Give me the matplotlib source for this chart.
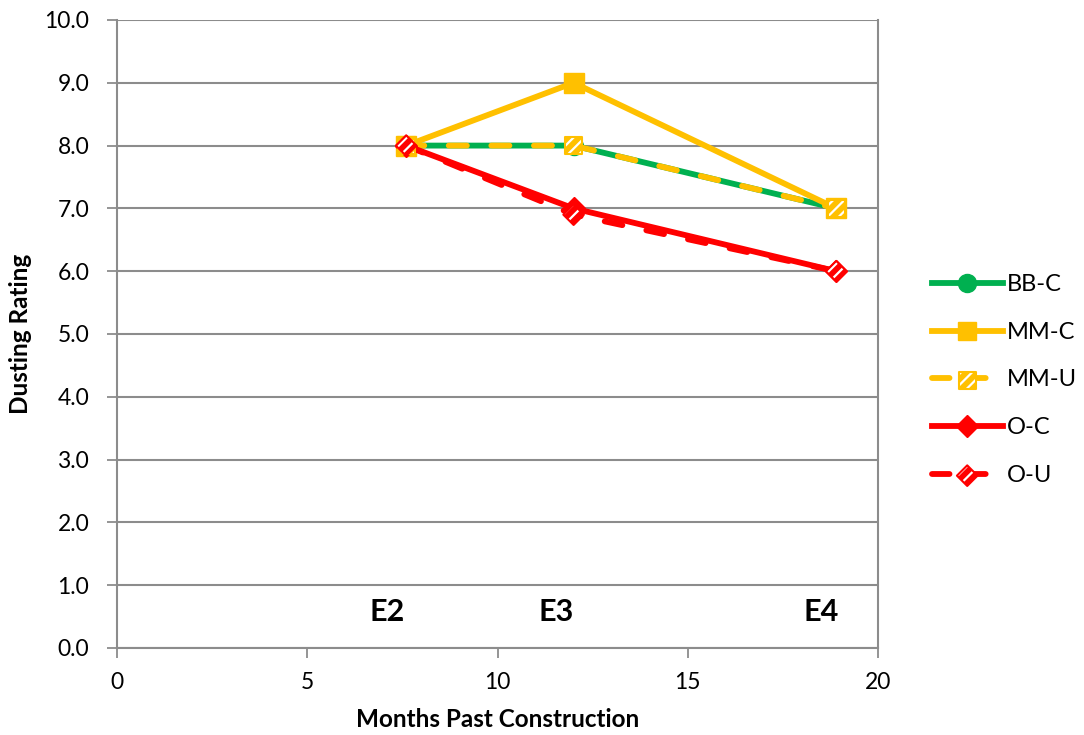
import matplotlib
matplotlib.use("Agg")
import matplotlib.pyplot as plt
from matplotlib.lines import Line2D
from matplotlib.legend_handler import HandlerTuple

# ─── Data ─────────────────────────────────────────────
months = [7.6, 12.0, 18.9]
bb_c = [8.0, 8.0, 7.0]
mm_c = [8.0, 9.0, 7.0]
mm_u = [8.0, 8.0, 7.0]
o_c = [8.0, 7.0, 6.0]
o_u = [8.0, 6.9, 6.0]

events = ["E2", "E3", "E4"]
event_x = [7.1, 11.55, 18.5]
event_y = 0.57

GREEN = "#00b050"
GOLD = "#ffc000"
RED = "#ff0000"
GRID = "#8c8c8c"

plt.rcParams["font.family"] = ["Lato", "DejaVu Sans"]
plt.rcParams["hatch.linewidth"] = 1.6

fig = plt.figure(figsize=(10.84, 7.35), dpi=100)
ax = fig.add_axes([0.1079, 0.1184, 0.7021, 0.8544])

LW = 4.2
dash = (3.1, 4.2)

ax.plot(months, bb_c, color=GREEN, lw=LW, marker="o", ms=13, zorder=3)
ax.plot(months, mm_c, color=GOLD, lw=LW, marker="s", ms=14, zorder=4)
ax.plot(months, mm_u, color=GOLD, lw=LW, ls=(0, dash), dash_capstyle="round", zorder=5)
ax.plot(months, o_c, color=RED, lw=LW, marker="D", ms=11, zorder=6)
ax.plot(months, o_u, color=RED, lw=LW, ls=(0, dash), dash_capstyle="round", zorder=7)


def hatched(xs, ys, marker, size, color, z, target=ax):
    fill = target.scatter(xs, ys, s=size, marker=marker, facecolor=color,
                          edgecolor="white", linewidth=0, hatch="///", zorder=z)
    rim = target.scatter(xs, ys, s=size, marker=marker, facecolor="none",
                         edgecolor=color, linewidth=1.5, zorder=z + 0.1)
    return fill, rim


mmu_fill, mmu_rim = hatched(months, mm_u, "s", 150, GOLD, 8)
ou_fill, ou_rim = hatched(months, o_u, "D", 110, RED, 9)

for lbl, x in zip(events, event_x):
    ax.text(x, event_y, lbl, ha="center", va="center", fontsize=22,
            fontweight="bold", zorder=10)

ax.set_xlim(0, 20)
ax.set_ylim(0, 10)
ax.set_xticks([0, 5, 10, 15, 20])
ax.set_yticks([i for i in range(11)])
ax.yaxis.set_major_formatter(matplotlib.ticker.FormatStrFormatter("%.1f"))
ax.tick_params(labelsize=16.5, length=7, width=1.3, color=GRID)
ax.tick_params(axis="y", pad=13)
ax.tick_params(axis="x", pad=10)
ax.grid(axis="y", color=GRID, lw=1.5)
ax.set_axisbelow(True)
for sp in ax.spines.values():
    sp.set_color(GRID)
    sp.set_linewidth(1.5)
ax.spines["top"].set_visible(False)

ax.set_xlabel("Months Past Construction", fontsize=17.5, fontweight="bold", labelpad=11)
ax.set_ylabel("Dusting Rating", fontsize=17.5, fontweight="bold", labelpad=9)

# Legend proxies
h_bb = Line2D([], [], color=GREEN, lw=LW, marker="o", ms=13)
h_mmc = Line2D([], [], color=GOLD, lw=LW, marker="s", ms=13)
h_oc = Line2D([], [], color=RED, lw=LW, marker="D", ms=11)
h_mmu_line = Line2D([], [], color=GOLD, lw=LW, ls=(0, (3.0, 3.2)), dash_capstyle="round")
h_ou_line = Line2D([], [], color=RED, lw=LW, ls=(0, (3.0, 3.2)), dash_capstyle="round")

fig.legend(
    [h_bb, h_mmc, (h_mmu_line, mmu_fill, mmu_rim), h_oc, (h_ou_line, ou_fill, ou_rim)],
    ["BB-C", "MM-C", "MM-U", "O-C", "O-U"],
    handler_map={tuple: HandlerTuple(ndivide=1)},
    loc="center left", bbox_to_anchor=(0.840, 0.483), frameon=False,
    fontsize=17, labelspacing=1.13, handlelength=3.0, handletextpad=0.17,
    scatterpoints=1,
)

fig.savefig("out.png", dpi=100)
